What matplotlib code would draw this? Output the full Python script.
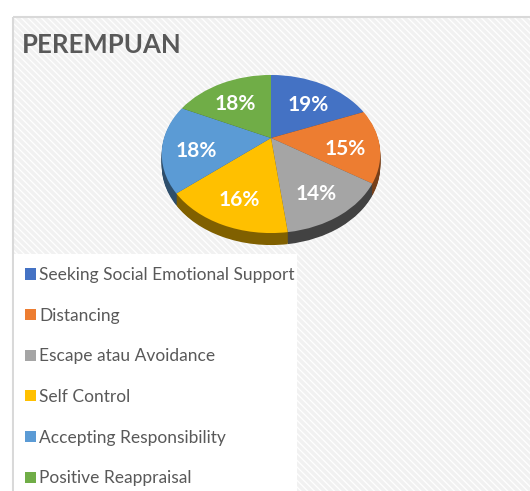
import numpy as np
import matplotlib
matplotlib.use('Agg')
import matplotlib.pyplot as plt
import matplotlib.transforms as mtransforms
from matplotlib.patches import Rectangle
from matplotlib.colors import to_rgb

plt.rcParams['font.family'] = ['Lato', 'DejaVu Sans']
plt.rcParams['hatch.linewidth'] = 2.5

title = 'PEREMPUAN'
categories = ['Seeking Social Emotional Support', 'Distancing', 'Escape atau Avoidance',
              'Self Control', 'Accepting Responsibility', 'Positive Reappraisal']
values = [19, 15, 14, 16, 18, 18]
colors = ['#4472C4', '#ED7D31', '#A5A5A5', '#FFC000', '#5B9BD5', '#70AD47']


class Tilt(mtransforms.Transform):
    # maps the unit pie onto a tilted disc seen in perspective (pixel coords)
    input_dims = 2
    output_dims = 2
    is_separable = False
    has_inverse = False

    def __init__(self, cx, cy, sx, sy, a):
        super().__init__()
        self.cx, self.cy, self.sx, self.sy, self.a = cx, cy, sx, sy, a

    def transform_non_affine(self, xy):
        xy = np.asarray(xy, dtype=float)
        x, y = xy[:, 0], xy[:, 1]
        d = 1 + self.a * y
        return np.column_stack([self.cx + self.sx * x / d, self.cy - self.sy * y / d])


def darker(c, f):
    r, g, b = to_rgb(c)
    return (r * f, g * f, b * f)


W, H = 530, 491
fig = plt.figure(figsize=(W / 100, H / 100), dpi=100)
ax = fig.add_axes([0, 0, 1, 1])

# chart area: hatched background + border
ax.add_patch(Rectangle((13, 17), 600, 600, facecolor='white', edgecolor='#F1F1F1',
                       hatch='\\' * 5, linewidth=0, zorder=0))
ax.add_patch(Rectangle((13, 17), 600, 600, fill=False, edgecolor='#D9D9D9',
                       linewidth=1.5, zorder=0.5))
# legend area
ax.add_patch(Rectangle((14, 254), 283, 300, facecolor='white', edgecolor='none', zorder=0.6))

tilt = Tilt(271, 138, 107, 75.8, 0.2025)

# side of the 3d pie: stacked darker copies shifted down
depth = 12
side_shade = [0.5, 0.5, 0.4, 0.5, 0.5, 0.5]
for k in range(depth, 0, -1):
    side, _ = ax.pie(values, colors=[darker(c, f) for c, f in zip(colors, side_shade)],
                     startangle=90, counterclock=False, wedgeprops=dict(linewidth=0))
    tr = tilt + mtransforms.Affine2D().translate(0, k) + ax.transData
    for w in side:
        w.set_transform(tr)
        w.set_zorder(1)

wedges, _, autotexts = ax.pie(values, colors=colors, startangle=90, counterclock=False,
                              autopct='%1.0f%%', pctdistance=0.69,
                              wedgeprops=dict(linewidth=0),
                              textprops=dict(color='white', fontsize=15, fontweight='bold'))
for w in wedges:
    w.set_transform(tilt + ax.transData)
    w.set_zorder(2)
label_tr = tilt + mtransforms.Affine2D().translate(0, 6) + ax.transData
for t in autotexts:
    t.set_transform(label_tr)
    t.set_zorder(3)

ax.text(22, 45, title, ha='left', va='center', fontsize=18.5, fontweight='bold',
        color='#595959', zorder=3)

leg = ax.legend(wedges, categories, loc='upper left', bbox_to_anchor=(25, 267),
                bbox_transform=ax.transData, frameon=False, fontsize=12.5,
                handlelength=0.62, handleheight=0.62, handletextpad=0.2,
                labelspacing=1.42, borderpad=0, borderaxespad=0)
for t in leg.get_texts():
    t.set_color('#595959')
leg.set_zorder(4)

ax.set_aspect('auto')
ax.set_xlim(0, W)
ax.set_ylim(H, 0)
ax.axis('off')

fig.savefig('out.png', dpi=100, facecolor='white')
